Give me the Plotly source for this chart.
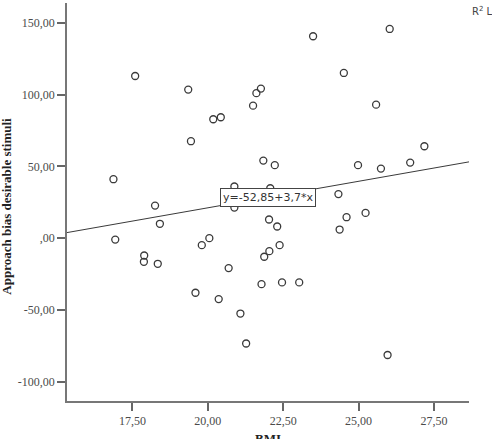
import plotly.graph_objects as go

# Data
bmi = [17.59, 19.35, 20.18, 20.43, 19.44, 16.87, 18.25, 20.88, 20.88, 23.49,
       26.03, 24.51, 21.76, 21.61, 21.50, 25.58, 21.84, 22.22, 24.98, 25.74,
       26.71, 27.18, 22.07, 24.33, 24.60, 25.23, 22.03, 22.30, 24.37, 16.93,
       18.41, 17.89, 17.88, 18.34, 19.80, 20.05, 20.69, 19.59, 20.36, 21.08,
       21.27, 22.38, 22.04, 21.87, 21.78, 22.46, 23.03, 25.96]
bias = [113.1, 103.6, 82.9, 84.3, 67.6, 41.1, 22.7, 36.0, 21.3, 140.8,
        145.9, 115.2, 104.3, 101.1, 92.4, 93.1, 54.1, 50.9, 50.9, 48.5,
        52.7, 64.1, 34.8, 30.7, 14.6, 17.6, 13.0, 8.1, 6.0, -1.0,
        10.0, -12.1, -16.5, -17.9, -4.9, 0.0, -20.9, -38.1, -42.5, -52.6,
        -73.5, -4.9, -9.1, -13.0, -32.1, -30.9, -30.9, -81.5]

intercept = -52.85
slope = 3.7
equation_text = "y=-52,85+3,7*x"

x_range = [15.33, 28.66]
y_range = [-113.6, 164.0]

x_tickvals = [17.5, 20.0, 22.5, 25.0, 27.5]
x_ticktext = ["17,50", "20,00", "22,50", "25,00", "27,50"]
y_tickvals = [-100, -50, 0, 50, 100, 150]
y_ticktext = ["-100,00", "-50,00", ",00", "50,00", "100,00", "150,00"]

x_title = "BMI"
y_title = "Approach bias desirable stimuli"
legend_text = "R<sup>2</sup> L"

fit_x = x_range
fit_y = [intercept + slope * v for v in fit_x]
label_x = 21.99
label_y = intercept + slope * label_x

fig = go.Figure()
fig.add_trace(go.Scatter(
    x=bmi, y=bias, mode="markers",
    marker=dict(symbol="circle-open", size=7, color="#3a3a3a",
                line=dict(width=1.3, color="#3a3a3a")),
    showlegend=False, hoverinfo="skip"))
fig.add_trace(go.Scatter(
    x=fit_x, y=fit_y, mode="lines",
    line=dict(color="#3a3a3a", width=1),
    showlegend=False, hoverinfo="skip"))

fig.add_annotation(
    x=label_x, y=label_y, xref="x", yref="y", text=equation_text,
    showarrow=False, bgcolor="white", bordercolor="#444", borderwidth=1,
    borderpad=2, font=dict(family="DejaVu Sans", size=11, color="#333"))

fig.add_annotation(
    x=(470 - 67) / 402, y=(439 - 38 - 11) / 398, xref="paper", yref="paper",
    text=legend_text, showarrow=False, xanchor="left", yanchor="middle",
    font=dict(family="DejaVu Sans", size=10, color="#444"))

axis_font = dict(family="Liberation Serif", size=12, color="#4a4a4a")
fig.update_layout(
    width=492, height=439,
    margin=dict(l=67, r=23, t=3, b=38, pad=0),
    paper_bgcolor="white", plot_bgcolor="white",
    xaxis=dict(range=x_range, tickvals=x_tickvals, ticktext=x_ticktext,
               showgrid=False, zeroline=False, showline=True,
               linecolor="#777", linewidth=1.5,
               ticks="outside", ticklen=8, tickwidth=2, tickcolor="#666",
               tickfont=axis_font),
    yaxis=dict(range=y_range, tickvals=y_tickvals, ticktext=y_ticktext,
               showgrid=False, zeroline=False, showline=True,
               linecolor="#777", linewidth=1.5,
               ticks="outside", ticklen=8, tickwidth=2, tickcolor="#666",
               tickfont=axis_font),
)

# Axis titles
fig.add_annotation(
    x=0.5, y=-0.071, xref="paper", yref="paper", text="<b>" + x_title + "</b>",
    showarrow=False, xanchor="center", yanchor="top",
    font=dict(family="Liberation Serif", size=13, color="#222"))
fig.add_annotation(
    x=-0.15, y=0.49, xref="paper", yref="paper", text="<b>" + y_title + "</b>",
    showarrow=False, textangle=-90, xanchor="center", yanchor="middle",
    font=dict(family="Liberation Serif", size=13, color="#222"))

fig.write_html("out.html")
